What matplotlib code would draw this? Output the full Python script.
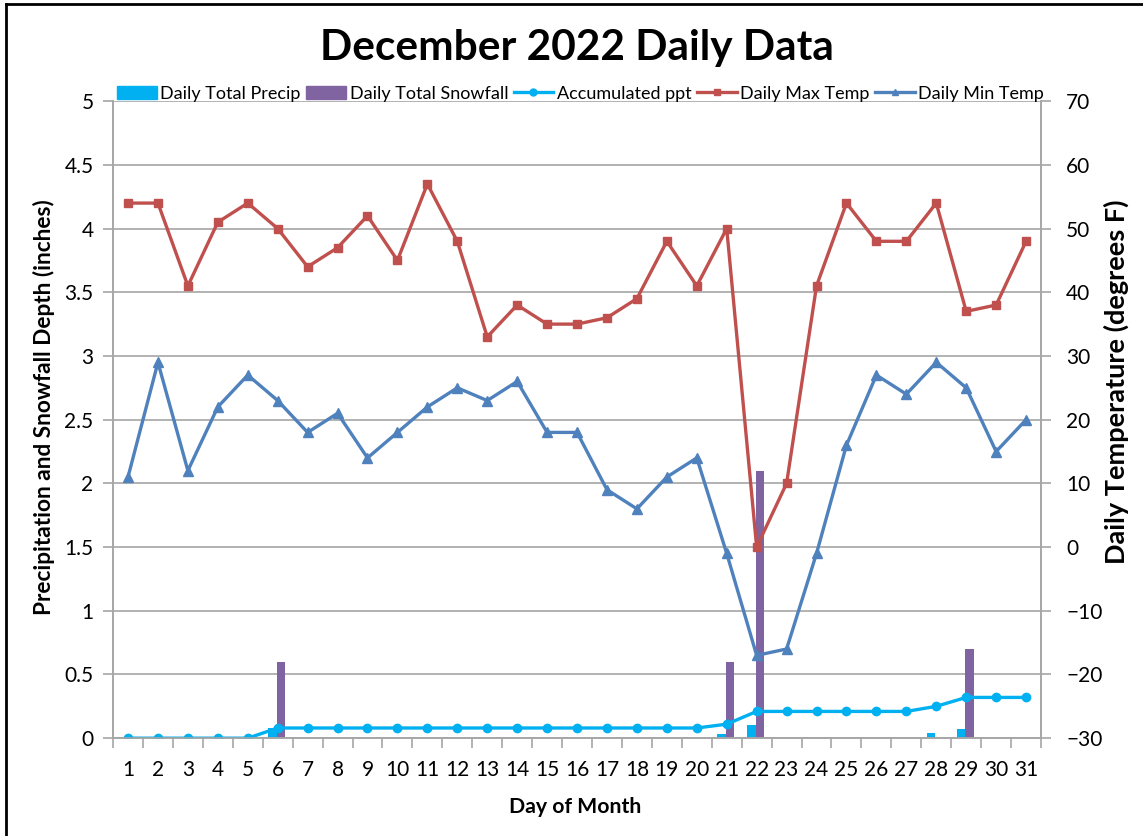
import matplotlib
matplotlib.use("Agg")
import matplotlib.pyplot as plt
from matplotlib.lines import Line2D
import numpy as np

plt.rcParams["font.family"] = ["Lato", "DejaVu Sans"]

days = list(range(1, 32))
precip = [0, 0, 0, 0, 0, 0.08, 0, 0, 0, 0, 0, 0, 0, 0, 0, 0, 0, 0, 0, 0,
          0.03, 0.10, 0, 0, 0, 0, 0, 0.04, 0.07, 0, 0]
snowfall = [0, 0, 0, 0, 0, 0.6, 0, 0, 0, 0, 0, 0, 0, 0, 0, 0, 0, 0, 0, 0,
            0.6, 2.1, 0, 0, 0, 0, 0, 0, 0.7, 0, 0]
accum = [0, 0, 0, 0, 0, 0.08, 0.08, 0.08, 0.08, 0.08, 0.08, 0.08, 0.08, 0.08,
         0.08, 0.08, 0.08, 0.08, 0.08, 0.08, 0.11, 0.21, 0.21, 0.21, 0.21,
         0.21, 0.21, 0.25, 0.32, 0.32, 0.32]
max_temp = [54, 54, 41, 51, 54, 50, 44, 47, 52, 45, 57, 48, 33, 38, 35, 35,
            36, 39, 48, 41, 50, 0, 10, 41, 54, 48, 48, 54, 37, 38, 48]
min_temp = [11, 29, 12, 22, 27, 23, 18, 21, 14, 18, 22, 25, 23, 26, 18, 18,
            9, 6, 11, 14, -1, -17, -16, -1, 16, 27, 24, 29, 25, 15, 20]

c_precip = "#00B0F0"
c_snow = "#8064A2"
c_max = "#C0504D"
c_min = "#4F81BD"
grid_c = "#A6A6A6"

fig = plt.figure(figsize=(11.43, 8.36), dpi=100)
ax = fig.add_axes([0.0989, 0.117, 0.8119, 0.762])
ax2 = ax.twinx()

x = np.array(days)
bw = 0.28
ax.bar(x - 0.17, precip, width=bw, color=c_precip, zorder=2)
ax.bar(x + 0.11, snowfall, width=bw, color=c_snow, zorder=2)
ax.plot(x, accum, color=c_precip, lw=2.4, marker="o", ms=6, zorder=3)

ax2.plot(x, max_temp, color=c_max, lw=2.4, marker="s", ms=6)
ax2.plot(x, min_temp, color=c_min, lw=2.4, marker="^", ms=7)

ax.set_xlim(0.5, 31.5)
ax.set_ylim(0, 5)
ax.set_yticks(np.arange(0, 5.01, 0.5))
ax.set_yticklabels(["0", "0.5", "1", "1.5", "2", "2.5", "3", "3.5", "4", "4.5", "5"])
ax2.set_ylim(-30, 70)
ax2.set_yticks(range(-30, 71, 10))

ax.set_xticks(np.arange(0.5, 31.6, 1))
ax.set_xticklabels([])
ax.set_xticks(x, minor=True)
ax.set_xticklabels([str(d) for d in days], minor=True)
ax.tick_params(axis="x", which="major", length=7, color=grid_c, width=1.2)
ax.tick_params(axis="x", which="minor", length=0, labelsize=15, pad=16)
ax.tick_params(axis="y", length=7, color=grid_c, width=1.2, labelsize=15, pad=7)
ax2.tick_params(axis="y", length=7, color=grid_c, width=1.2, labelsize=15, pad=11)

ax.grid(axis="y", color=grid_c, lw=1.2, zorder=0)
ax.set_axisbelow(True)
for a in (ax, ax2):
    for s in a.spines.values():
        s.set_color(grid_c)
        s.set_linewidth(1.2)
    a.spines["top"].set_visible(False)

ax.set_xlabel("Day of Month", fontsize=15.3, fontweight="bold")
ax.xaxis.set_label_coords(0.498, -0.093)
ax.set_ylabel("Precipitation and Snowfall Depth (inches)", fontsize=16.3,
              fontweight="bold", va="center")
ax.yaxis.set_label_coords(-0.074, 0.52)
ax2.set_ylabel("Daily Temperature (degrees F)", fontsize=19.5, fontweight="bold",
               va="center", rotation=90)
ax2.yaxis.set_label_coords(1.081, 0.56)

fig.text(0.505, 0.943, "December 2022 Daily Data", ha="center", va="center",
         fontsize=30.5, fontweight="bold")

handles = [
    plt.Rectangle((0, 0), 1, 1, color=c_precip),
    plt.Rectangle((0, 0), 1, 1, color=c_snow),
    Line2D([], [], color=c_precip, lw=2.4, marker="o", ms=5),
    Line2D([], [], color=c_max, lw=2.4, marker="s", ms=5),
    Line2D([], [], color=c_min, lw=2.4, marker="^", ms=5),
]
labels = ["Daily Total Precip", "Daily Total Snowfall", "Accumulated ppt",
          "Daily Max Temp", "Daily Min Temp"]
fig.legend(handles, labels, loc="center", bbox_to_anchor=(0.508, 0.888), ncol=5,
           frameon=False, fontsize=13, handlelength=2.2, handleheight=0.7,
           handletextpad=0.2, columnspacing=0.3)

# chart border (left and top visible)
fig.add_artist(Line2D([0.005, 0.005], [0, 0.995], color="black", lw=2,
                      transform=fig.transFigure))
fig.add_artist(Line2D([0.005, 1], [0.995, 0.995], color="black", lw=2,
                      transform=fig.transFigure))

fig.savefig("out.png", dpi=100)
